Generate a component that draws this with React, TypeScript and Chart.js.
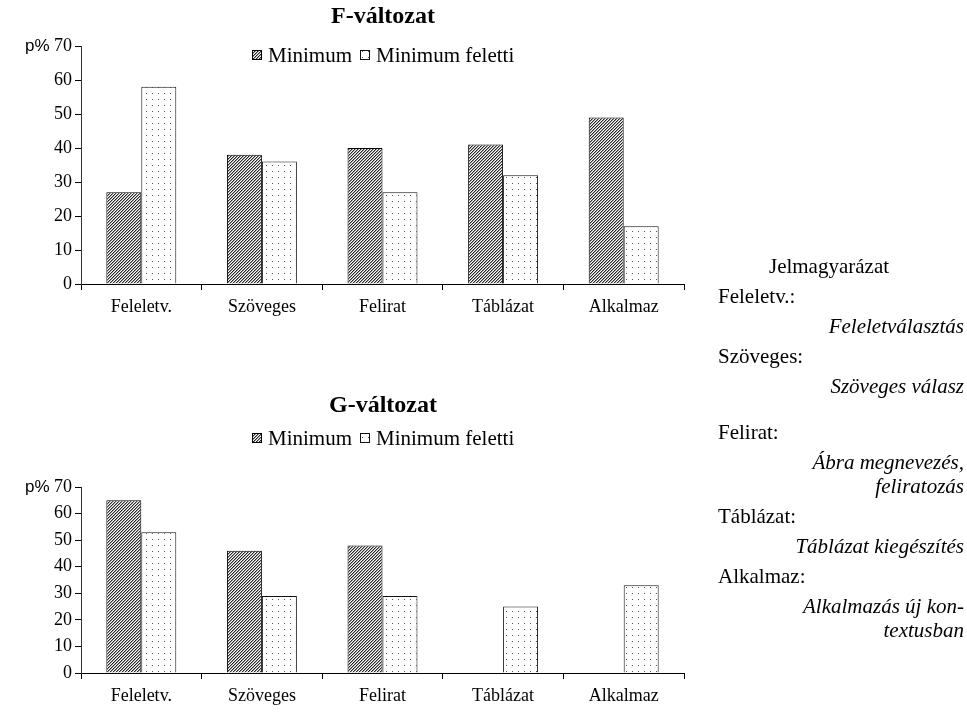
import React, { useEffect, useRef } from "react";
import { Chart, registerables } from "chart.js";

Chart.register(...registerables);

const categories = ["Feleletv.", "Szöveges", "Felirat", "Táblázat", "Alkalmaz"];
const seriesNames = ["Minimum", "Minimum feletti"];
const fMinimum = [27, 38, 40, 41, 49];
const fFeletti = [58, 36, 27, 32, 17];
const gMinimum = [65, 46, 48, 0, 0];
const gFeletti = [53, 29, 29, 25, 33];
const yTicks = [0, 10, 20, 30, 40, 50, 60, 70];
const yUnit = "p%";
const titles = ["F-változat", "G-változat"];
const keyTitle = "Jelmagyarázat";
const keyTerms = ["Feleletv.:", "Szöveges:", "Felirat:", "Táblázat:", "Alkalmaz:"];
const keyMeanings = [
  ["Feleletválasztás"],
  ["Szöveges válasz"],
  ["Ábra megnevezés,", "feliratozás"],
  ["Táblázat kiegészítés"],
  ["Alkalmazás új kon-", "textusban"],
];

const SERIF = '"Liberation Serif", "Times New Roman", serif';
const SANS = '"Liberation Sans", Arial, sans-serif';

function hatchPattern(ctx: CanvasRenderingContext2D) {
  const n = 3;
  const c = document.createElement("canvas");
  c.width = n;
  c.height = n;
  const g = c.getContext("2d")!;
  g.fillStyle = "#fff";
  g.fillRect(0, 0, n, n);
  for (let y = 0; y < n; y++) {
    g.fillStyle = "#262626";
    g.fillRect((n - 1 - y + n) % n, y, 1, 1);
    g.fillStyle = "#a0a0a0";
    g.fillRect((n - y) % n, y, 1, 1);
  }
  return ctx.createPattern(c, "repeat")!;
}

function dotPattern(ctx: CanvasRenderingContext2D) {
  const c = document.createElement("canvas");
  c.width = 6;
  c.height = 6;
  const g = c.getContext("2d")!;
  g.fillStyle = "#fff";
  g.fillRect(0, 0, 6, 6);
  g.fillStyle = "#555";
  g.fillRect(2, 3, 1, 1);
  return ctx.createPattern(c, "repeat")!;
}

const headerPlugin = {
  id: "header",
  afterDraw(chart: any, _args: any, o: any) {
    const ctx: CanvasRenderingContext2D = chart.ctx;
    ctx.save();
    ctx.fillStyle = "#000";
    ctx.textBaseline = "middle";
    ctx.textAlign = "center";
    ctx.font = `bold ${o.titleSize}px ${SERIF}`;
    ctx.fillText(o.title, o.centerX, o.titleY);

    ctx.font = `${o.legendSize}px ${SERIF}`;
    const box = 10;
    const gap = 6;
    const itemGap = 8;
    const items = chart.data.datasets.map((ds: any) => ({
      label: ds.label,
      fill: ds.backgroundColor,
      stroke: ds.borderColor,
    }));
    const widths = items.map((it: any) => box + gap + ctx.measureText(it.label).width);
    const total = widths.reduce((a: number, b: number) => a + b, 0) + itemGap * (items.length - 1);
    let x = Math.round(o.centerX - total / 2);
    items.forEach((it: any, i: number) => {
      const top = Math.round(o.legendY - box / 2);
      ctx.fillStyle = it.fill;
      ctx.fillRect(x, top, box, box);
      ctx.strokeStyle = it.stroke;
      ctx.lineWidth = 1;
      ctx.strokeRect(x + 0.5, top + 0.5, box - 1, box - 1);
      ctx.fillStyle = "#000";
      ctx.textAlign = "left";
      ctx.fillText(it.label, x + box + gap, o.legendY + 1);
      x += widths[i] + itemGap;
    });

    ctx.font = `${o.unitSize}px ${SANS}`;
    ctx.textAlign = "left";
    ctx.fillText(o.unit, o.unitX, chart.scales.y.getPixelForValue(yTicks[yTicks.length - 1]));
    ctx.restore();
  },
};

type Cfg = {
  minData: number[];
  felData: number[];
  title: string;
  width: number;
  height: number;
  padTop: number;
  padBottom: number;
  titleY: number;
  legendY: number;
};

function BarChart(props: Cfg) {
  const ref = useRef<HTMLCanvasElement>(null);
  useEffect(() => {
    const canvas = ref.current!;
    const ctx = canvas.getContext("2d")!;
    const hatch = hatchPattern(ctx);
    const dots = dotPattern(ctx);
    const xFont = { family: SERIF, size: 18 };
    const yFont = { family: SERIF, size: 18 };
    const chart = new Chart(ctx, {
      type: "bar",
      data: {
        labels: categories,
        datasets: [
          {
            label: seriesNames[0],
            data: props.minData,
            backgroundColor: hatch as any,
            borderColor: "#000",
            borderWidth: 1,
            categoryPercentage: 0.58,
            barPercentage: 1,
          },
          {
            label: seriesNames[1],
            data: props.felData,
            backgroundColor: dots as any,
            borderColor: "#111",
            borderWidth: 1,
            categoryPercentage: 0.58,
            barPercentage: 1,
          },
        ],
      },
      options: {
        animation: false,
        responsive: false,
        maintainAspectRatio: false,
        layout: {
          padding: { left: 0, right: props.width - 684, top: props.padTop, bottom: props.padBottom },
        },
        plugins: {
          legend: { display: false },
          title: { display: false },
          tooltip: { enabled: false },
          header: {
            title: props.title,
            titleSize: 24,
            legendSize: 21,
            unitSize: 17,
            unit: yUnit,
            unitX: 25,
            centerX: 383,
            titleY: props.titleY,
            legendY: props.legendY,
          },
        } as any,
        scales: {
          x: {
            afterFit: (s: any) => {
              s.height = 40;
            },
            grid: { offset: true, drawOnChartArea: false, drawTicks: true, tickLength: 6, color: "#000" },
            border: { display: true, color: "#000", width: 1 },
            ticks: { color: "#000", padding: 6, font: xFont, maxRotation: 0, autoSkip: false },
          },
          y: {
            min: 0,
            max: 70,
            afterBuildTicks: (s: any) => {
              s.ticks = yTicks.map((v) => ({ value: v }));
            },
            afterFit: (s: any) => {
              s.width = 81;
            },
            grid: { drawOnChartArea: false, drawTicks: true, tickLength: 6, color: "#000" },
            border: { display: true, color: "#333", width: 1 },
            ticks: { color: "#000", padding: 3, font: yFont },
          },
        },
      },
      plugins: [headerPlugin],
    });
    return () => chart.destroy();
  }, []);
  return (
    <canvas
      ref={ref}
      width={props.width}
      height={props.height}
      style={{ display: "block", width: props.width, height: props.height }}
    />
  );
}

const keyRows: { text: string; y: number; kind: "title" | "term" | "meaning" }[] = (() => {
  const rows: { text: string; y: number; kind: "title" | "term" | "meaning" }[] = [];
  const ys = [296, 356, 432, 516, 576];
  rows.push({ text: keyTitle, y: 266, kind: "title" });
  keyTerms.forEach((t, i) => {
    rows.push({ text: t, y: ys[i], kind: "term" });
    keyMeanings[i].forEach((m, j) => {
      rows.push({ text: m, y: ys[i] + 30 + j * 24, kind: "meaning" });
    });
  });
  return rows;
})();

export default function App() {
  useEffect(() => {
    document.body.style.margin = "0";
  }, []);
  return (
    <div style={{ position: "absolute", left: 0, top: 0, width: 967, height: 713, background: "#fff", overflow: "hidden" }}>
      <div style={{ position: "absolute", left: 0, top: 0 }}>
        <BarChart
          minData={fMinimum}
          felData={fFeletti}
          title={titles[0]}
          width={767}
          height={330}
          padTop={46}
          padBottom={6}
          titleY={17}
          legendY={55}
        />
      </div>
      <div style={{ position: "absolute", left: 0, top: 380 }}>
        <BarChart
          minData={gMinimum}
          felData={gFeletti}
          title={titles[1]}
          width={767}
          height={333}
          padTop={107}
          padBottom={0}
          titleY={26}
          legendY={58}
        />
      </div>
      {keyRows.map((r, i) => (
        <div
          key={i}
          style={{
            position: "absolute",
            top: r.y - 12,
            height: 24,
            lineHeight: "24px",
            whiteSpace: "nowrap",
            fontFamily: SERIF,
            fontSize: 21,
            fontStyle: r.kind === "meaning" ? "italic" : "normal",
            color: "#000",
            ...(r.kind === "title"
              ? { left: 729, width: 200, textAlign: "center" as const }
              : r.kind === "term"
              ? { left: 718 }
              : { right: 3, textAlign: "right" as const }),
          }}
        >
          {r.text}
        </div>
      ))}
    </div>
  );
}
